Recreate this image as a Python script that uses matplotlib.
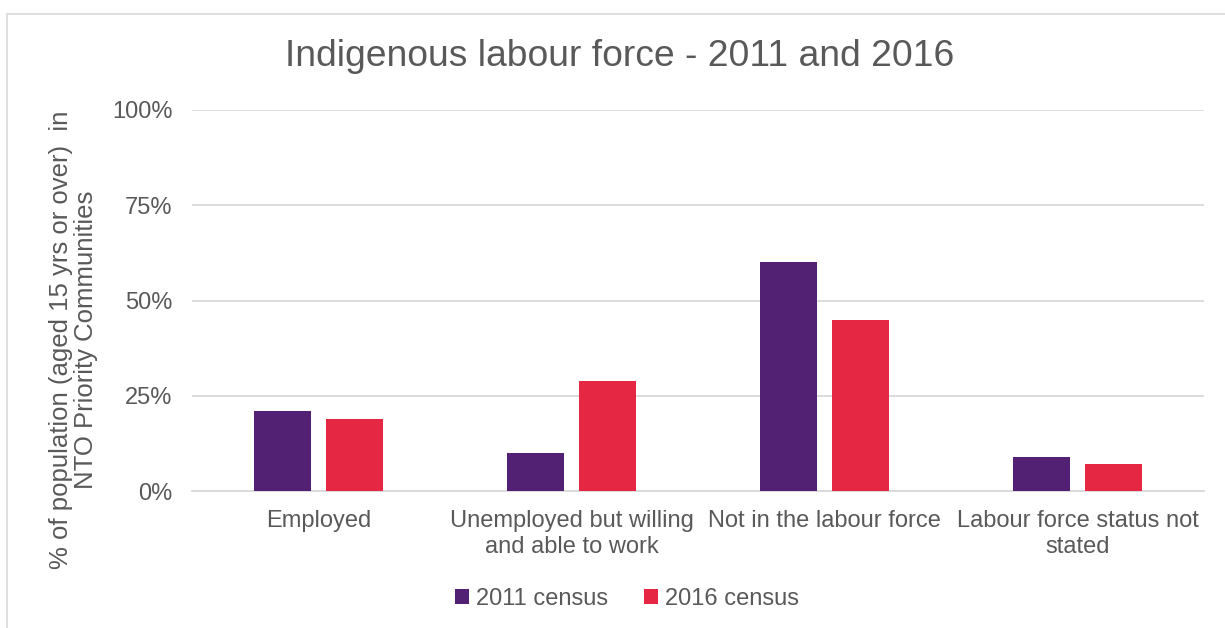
import numpy as np
import matplotlib.pyplot as plt
from matplotlib.patches import Rectangle

plt.rcParams['font.family'] = ['Liberation Sans', 'DejaVu Sans']

categories = ['Employed', 'Unemployed but willing\nand able to work',
              'Not in the labour force', 'Labour force status not\nstated']
census_2011 = [21, 10, 60, 9]
census_2016 = [19, 29, 45, 7]

grey = '#595959'
purple = '#522173'
red = '#E62744'

fig = plt.figure(figsize=(12.25, 6.28), dpi=100)
ax = fig.add_axes([192/1225, 1-491/628, (1204-192)/1225, (491-110)/628])

# rand del grafico
fig.patches.append(Rectangle((7/1225, -0.05), 1.1, 1-14/628+0.05, transform=fig.transFigure,
                             fill=False, edgecolor='#D9D9D9', linewidth=1.2))

x = np.arange(len(categories))
w = 0.225
ax.bar(x - 0.143, census_2011, w, color=purple, label='2011 census', zorder=3)
ax.bar(x + 0.143, census_2016, w, color=red, label='2016 census', zorder=3)

ax.set_xlim(-0.5, 3.5)
ax.set_ylim(0, 100)
ax.set_yticks([0, 25, 50, 75, 100])
ax.set_yticklabels(['0%', '25%', '50%', '75%', '100%'])
ax.set_xticks(x)
ax.set_xticklabels(categories, linespacing=1.2)
ax.tick_params(axis='both', length=0, labelsize=17, colors=grey)
ax.tick_params(axis='y', pad=14)
ax.tick_params(axis='x', pad=14)
ax.yaxis.grid(True, color='#D9D9D9', linewidth=1.3, zorder=0)
for s in ['top', 'right', 'left']:
    ax.spines[s].set_visible(False)
ax.spines['bottom'].set_color('#D9D9D9')
ax.spines['bottom'].set_linewidth(1.3)

ax.set_ylabel('% of population (aged 15 yrs or over)  in\nNTO Priority Communities',
              fontsize=18.5, color=grey, linespacing=1.05)
ax.yaxis.set_label_coords(-0.093, 0.396)
fig.text(620/1225, 1-56/628, 'Indigenous labour force - 2011 and 2016',
         ha='center', va='center', fontsize=26.8, color=grey)

fig.legend(loc='center', bbox_to_anchor=(627/1225, 1-599/628), ncol=2, frameon=False,
           fontsize=17, labelcolor=grey, handlelength=0.6, handleheight=0.6,
           handletextpad=0.3, columnspacing=1.5)

fig.savefig('out.png', dpi=100)
